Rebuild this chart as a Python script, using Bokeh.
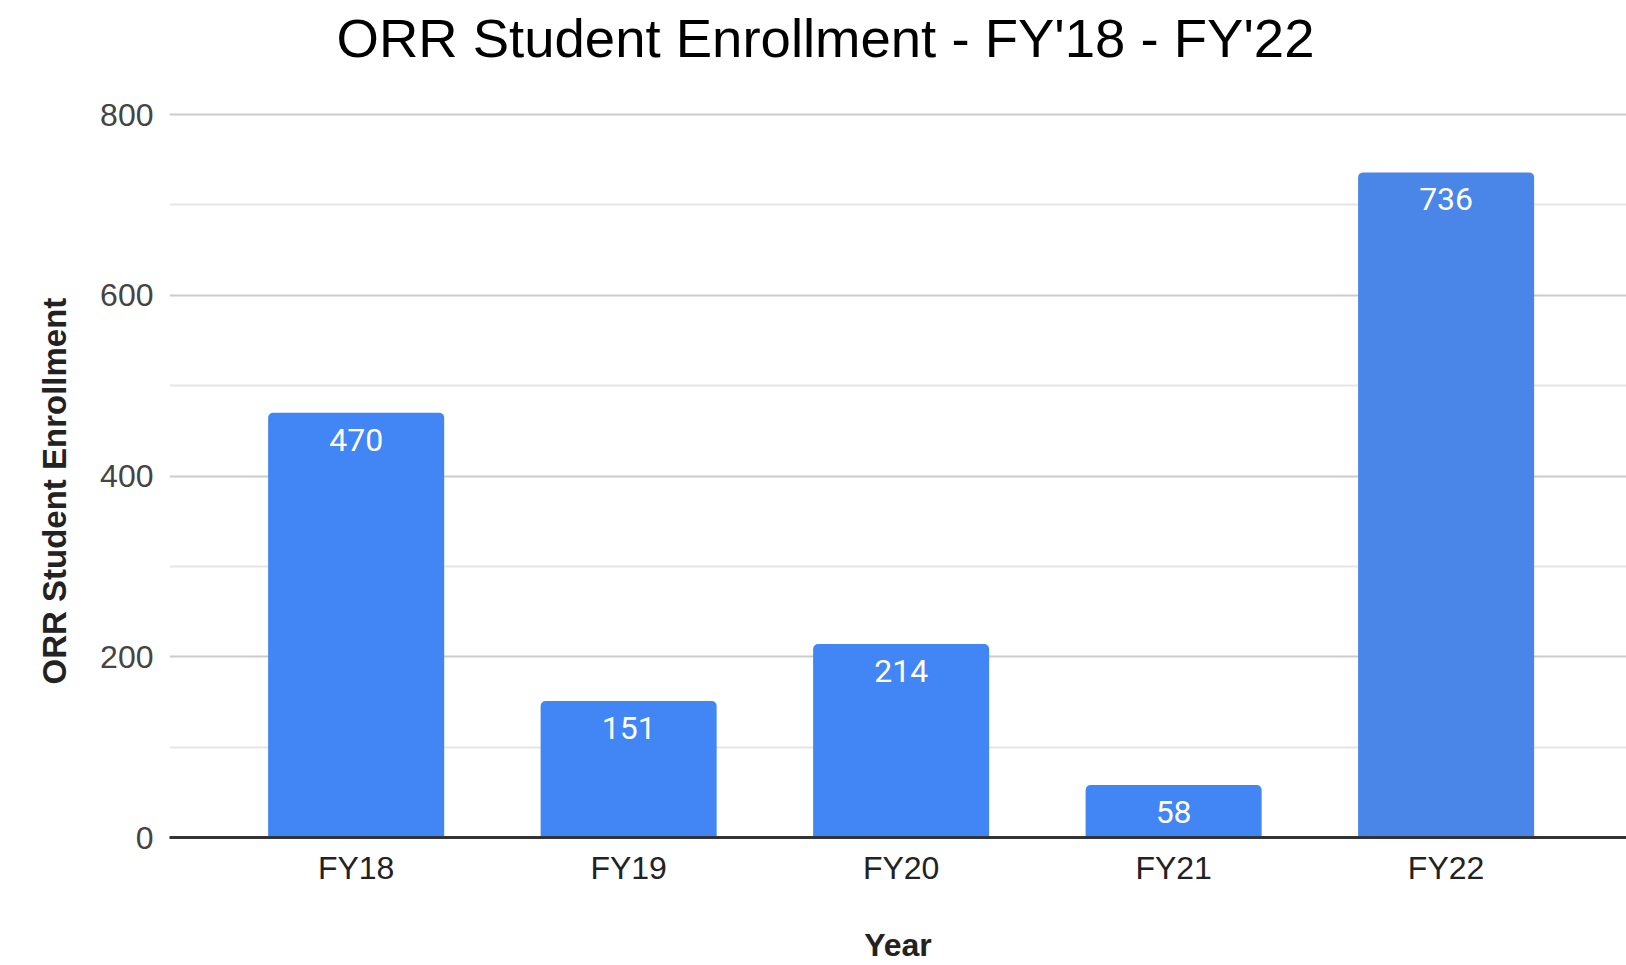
from bokeh.plotting import figure
from bokeh.models import Range1d, FixedTicker, ColumnDataSource, Title
from bokeh.core.properties import value
from bokeh.embed import file_html
from bokeh.resources import INLINE

# ---- data ----
categories = ["FY18", "FY19", "FY20", "FY21", "FY22"]
enrollment = [470, 151, 214, 58, 736]
bar_colors = ["#4285f4", "#4285f4", "#4285f4", "#4285f4", "#4a86e8"]
y_major_ticks = [0, 200, 400, 600, 800]
y_minor_ticks = [100, 300, 500, 700]

xs = [i + 0.5 for i in range(len(categories))]
src = ColumnDataSource(dict(x=xs, top=enrollment, color=bar_colors,
                            label=[str(v) for v in enrollment]))

p = figure(width=1626, height=965, output_backend="svg", toolbar_location=None,
           x_range=Range1d(-0.185, 5.162), y_range=Range1d(0, 843.2),
           min_border_left=169, min_border_right=0, min_border_top=75,
           min_border_bottom=128)
p.outline_line_color = None
p.background_fill_color = "white"
p.border_fill_color = "white"

# title
p.title.text = "ORR Student Enrollment - FY'18 - FY'22"
p.title.text_font = "Liberation Sans"
p.title.text_font_size = "54.5px"
p.title.text_font_style = "normal"
p.title.text_color = "#000000"
p.title.align = "left"
p.title.offset = 167
p.title.standoff = 10
p.title.vertical_align = "top"

# y axis title as a side title so it can sit a little below centre
ytitle = Title(text="ORR Student Enrollment", text_font="Liberation Sans",
               text_font_size="33px", text_font_style="bold",
               text_color="#222222", align="left", offset=153, standoff=50)
p.add_layout(ytitle, "left")

# bars
p.vbar(x="x", top="top", width=0.646, bottom=0, source=src,
       fill_color="color", line_color=None, border_radius=(5, 5, 0, 0))
p.text(x="x", y="top", text="label", source=src, text_color="white",
       text_font=value("Roboto"), text_font_size="32px",
       text_align="center", text_baseline="top", y_offset=16)

# y axis
p.yaxis.ticker = FixedTicker(ticks=y_major_ticks, minor_ticks=y_minor_ticks)
p.yaxis.axis_line_color = None
p.yaxis.major_tick_line_color = None
p.yaxis.minor_tick_line_color = None
p.yaxis.major_label_text_font = "Liberation Sans"
p.yaxis.major_label_text_font_size = "32px"
p.yaxis.major_label_text_color = "#444444"
p.yaxis.major_label_standoff = 10

p.ygrid.grid_line_color = "#cccccc"
p.ygrid.grid_line_width = 2
p.ygrid.minor_grid_line_color = "#e6e6e6"
p.ygrid.minor_grid_line_width = 2
p.xgrid.grid_line_color = None

# x axis
p.xaxis.ticker = FixedTicker(ticks=xs)
p.xaxis.major_label_overrides = {x: c for x, c in zip(xs, categories)}
p.xaxis.axis_line_color = "#333333"
p.xaxis.axis_line_width = 3
p.xaxis.major_tick_line_color = None
p.xaxis.minor_tick_line_color = None
p.xaxis.major_label_text_font = "Liberation Sans"
p.xaxis.major_label_text_font_size = "32px"
p.xaxis.major_label_text_color = "#222222"
p.xaxis.major_label_standoff = 6
p.xaxis.axis_label = "Year"
p.xaxis.axis_label_text_font = "Liberation Sans"
p.xaxis.axis_label_text_font_size = "32px"
p.xaxis.axis_label_text_font_style = "bold"
p.xaxis.axis_label_text_color = "#222222"
p.xaxis.axis_label_standoff = 38

open("out.html", "w").write(file_html(p, INLINE))
